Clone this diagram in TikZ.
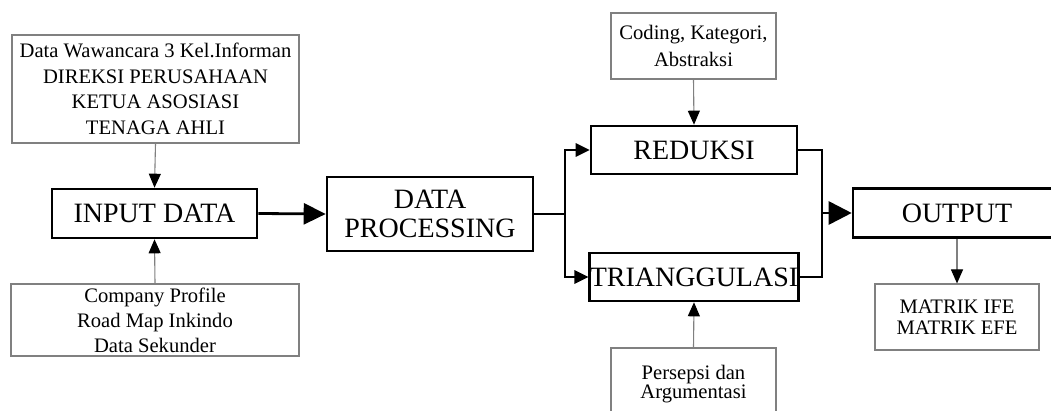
\documentclass[tikz,border=0pt]{standalone}
\usepackage{fontspec}
\setmainfont{Liberation Serif}
\usetikzlibrary{arrows.meta}
\definecolor{boxgray}{HTML}{808080}
\tikzset{
  thinbox/.style={draw=boxgray, line width=1.1pt, inner sep=0pt, align=center,
    font=\fontsize{20.6}{25.5}\selectfont},
  thickbox/.style={draw=black, line width=2.6pt, inner sep=0pt, align=center,
    font=\fontsize{28}{28.5}\selectfont},
  thinarrow/.style={draw=boxgray, line width=1.1pt,
    -{Triangle[length=14pt,width=12pt,color=black,fill=black]}},
  thickline/.style={draw=black, line width=2.8pt},
  bigarrow/.style={thickline, -{Triangle[length=22pt,width=21pt]}},
  midarrow/.style={thickline, -{Triangle[length=14pt,width=13pt]}},
}
\begin{document}
\begin{tikzpicture}[x=1pt,y=-1pt]
\useasboundingbox (0,0) rectangle (1051,411);
\clip (0,0) rectangle (1051,411);
\fill[white] (0,0) rectangle (1051,411);

\node[thinbox, minimum width=287pt, minimum height=108pt] (info) at (155.5,89)
  {Data Wawancara 3 Kel.Informan\\DIREKSI PERUSAHAAN\\KETUA ASOSIASI\\TENAGA AHLI};
\node[thickbox, minimum width=205pt, minimum height=49pt] (input) at (154.5,213.5) {INPUT DATA};
\node[thinbox, minimum width=288pt, minimum height=72pt, font=\fontsize{20.6}{25}\selectfont] (company) at (155,320)
  {Company Profile\\Road Map Inkindo\\Data Sekunder};
\node[thickbox, minimum width=206pt, minimum height=74pt] (dp) at (430,214) {DATA\\PROCESSING};
\node[thickbox, minimum width=206pt, minimum height=48pt] (red) at (694,150) {REDUKSI};
\node[thickbox, minimum width=206pt, minimum height=48pt] (tri) at (694,277) {TRIANGGULASI};
\node[thinbox, minimum width=165pt, minimum height=66pt, font=\fontsize{20.6}{26.5}\selectfont] (coding) at (693.5,46)
  {Coding, Kategori,\\Abstraksi};
\node[thinbox, minimum width=165pt, minimum height=72pt, font=\fontsize{20.6}{19}\selectfont] (persepsi) at (693.5,384)
  {Persepsi dan\\Argumentasi};
\node[thickbox, minimum width=208pt, minimum height=49pt] (out) at (957,213) {OUTPUT};
\node[thinbox, minimum width=164pt, minimum height=66pt, font=\fontsize{20.6}{21}\selectfont] (matrik) at (957,317)
  {MATRIK IFE\\MATRIK EFE};

\coordinate (split) at (565,214);
\coordinate (merge) at (822,213);

\draw[thinarrow] (info.south) -- (input.north);
\draw[thinarrow] (company.north) -- (input.south);
\draw[bigarrow] (input.east) -- (dp.west);
\draw[thickline] (dp.east) -- (split);
\draw[midarrow] (split) |- (red.west);
\draw[midarrow] (split) |- (tri.west);
\draw[thinarrow] (coding.south) -- (red.north);
\draw[thinarrow] (persepsi.north) -- (tri.south);
\draw[thickline] (red.east) -| (merge);
\draw[thickline] (tri.east) -| (merge);
\draw[thickline, -{Triangle[length=23pt,width=23pt]}] (merge) -- (out.west);
\draw[thinarrow] (out.south) -- (matrik.north);
\end{tikzpicture}
\end{document}
